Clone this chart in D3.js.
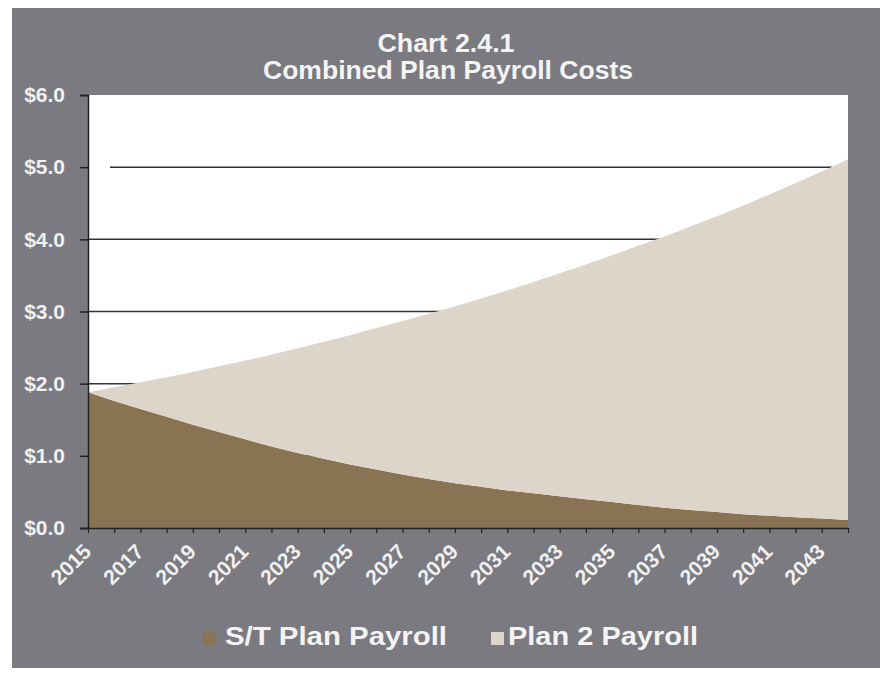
<!DOCTYPE html>
<html><head><meta charset="utf-8">
<script src="https://cdn.jsdelivr.net/npm/d3@7"></script>
<style>body{margin:0;background:#fff}svg{display:block}text{font-family:"Liberation Sans",Arial,sans-serif;font-weight:bold}</style>
</head><body>
<svg id="c" width="880" height="673"></svg>
<script>
const years = d3.range(2015, 2045);
const stPayroll = [1.88,1.76,1.65,1.54,1.43,1.33,1.23,1.13,1.04,0.96,0.88,0.81,0.74,0.68,0.62,0.57,0.52,0.48,0.44,0.40,0.36,0.32,0.28,0.25,0.22,0.19,0.17,0.15,0.13,0.11];
const plan2Payroll = [0.00,0.19,0.37,0.55,0.73,0.91,1.09,1.27,1.45,1.62,1.79,1.96,2.13,2.29,2.45,2.61,2.77,2.93,3.09,3.25,3.42,3.59,3.76,3.93,4.10,4.28,4.45,4.63,4.81,5.00];
const yTicks = [0,1,2,3,4,5,6];
const xLabelYears = d3.range(2015, 2045, 2);
const seriesNames = ["S/T Plan Payroll","Plan 2 Payroll"];
const colors = ["#8a7352","#ddd5ca"];

const svg = d3.select("#c");
svg.append("rect").attr("x",12).attr("y",8).attr("width",868).attr("height",660).attr("fill","#7a7a80");

const L=88,R=848,T=95,B=528;
svg.append("rect").attr("x",L).attr("y",T).attr("width",R-L).attr("height",B-T).attr("fill","#ffffff");

const x = d3.scaleLinear().domain([2015,2044]).range([L,R]);
const y = d3.scaleLinear().domain([0,6]).range([B,T]);

// gridlines
svg.append("g").selectAll("line").data(yTicks.filter(d=>d>0&&d<6)).join("line")
  .attr("x1",d=>d===5?110:L).attr("x2",d=>d===5?832:R).attr("y1",d=>y(d)).attr("y2",d=>y(d))
  .attr("stroke","#333").attr("stroke-width",1.5);

const table = years.map((yr,i)=>({year:yr, st:stPayroll[i], p2:plan2Payroll[i]}));
const stack = d3.stack().keys(["st","p2"])(table);
const area = d3.area().x(d=>x(d.data.year)).y0(d=>y(d[0])).y1(d=>y(d[1]));
svg.append("g").selectAll("path").data(stack).join("path")
  .attr("d",area).attr("fill",(d,i)=>colors[i]);

// axes
const yAxis = d3.axisLeft(y).tickValues(yTicks).tickFormat(d=>"$"+d.toFixed(1)).tickSize(8).tickPadding(15);
const gy = svg.append("g").attr("transform",`translate(${L},0)`).call(yAxis);
gy.select(".domain").attr("stroke","#222").attr("stroke-width",1.5);
gy.selectAll(".tick line").attr("stroke","#222").attr("stroke-width",1.5);
gy.selectAll("text").attr("fill","#f0f0f0").attr("font-size",21).attr("font-family","Liberation Sans, Arial, sans-serif").attr("font-weight","bold");

const xAxis = d3.axisBottom(x).tickValues(years).tickFormat(d=>xLabelYears.includes(d)?String(d):"").tickSize(5).tickSizeOuter(0);
const gx = svg.append("g").attr("transform",`translate(0,${B})`).call(xAxis);
gx.select(".domain").attr("stroke","#222").attr("stroke-width",1.5);
gx.selectAll(".tick line").attr("stroke","#222").attr("stroke-width",1.2);
gx.selectAll("text").attr("fill","#f0f0f0").attr("font-size",21).attr("font-family","Liberation Sans, Arial, sans-serif").attr("font-weight","bold")
  .attr("text-anchor","end").attr("dy",null).attr("y",0)
  .attr("transform","translate(4,25) rotate(-45)");

// title
svg.append("text").attr("x",446).attr("y",52).attr("text-anchor","middle").attr("fill","#f4f4f4").attr("font-size",25)
  .attr("textLength",137).attr("lengthAdjust","spacingAndGlyphs").text("Chart 2.4.1");
svg.append("text").attr("x",448).attr("y",79).attr("text-anchor","middle").attr("fill","#f4f4f4").attr("font-size",25)
  .attr("textLength",370).attr("lengthAdjust","spacingAndGlyphs").text("Combined Plan Payroll Costs");

// legend
const leg = [{x:203,tx:225,w:222},{x:491,tx:508,w:190}];
seriesNames.forEach((n,i)=>{
  svg.append("rect").attr("x",leg[i].x).attr("y",632).attr("width",13).attr("height",13).attr("fill",colors[i]);
  svg.append("text").attr("x",leg[i].tx).attr("y",645).attr("fill","#f4f4f4").attr("font-size",26)
    .attr("textLength",leg[i].w).attr("lengthAdjust","spacingAndGlyphs").text(n);
});
</script>
</body></html>
